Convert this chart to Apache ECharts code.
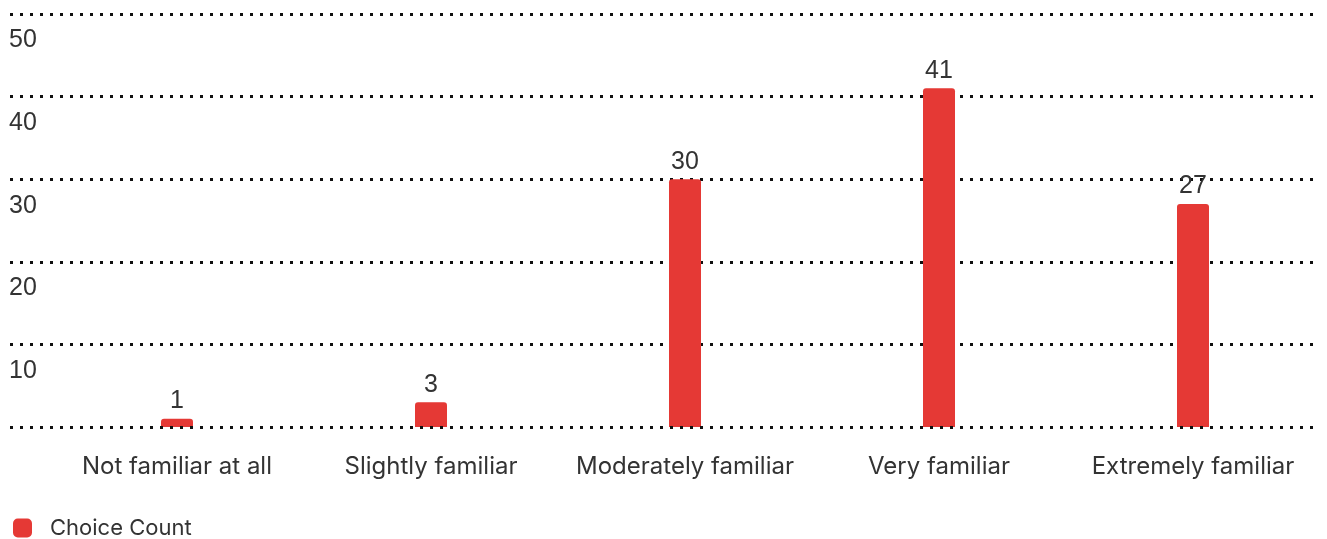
<!DOCTYPE html>
<html>
<head>
<meta charset="utf-8">
<style>
  html, body { margin: 0; padding: 0; background: #fff; }
  #chart { width: 1327px; height: 539px; }
</style>
<script src="https://cdn.jsdelivr.net/npm/echarts@6/dist/echarts.min.js"></script>
</head>
<body>
<div id="chart"></div>
<script>
// Familiarity survey: number of respondents choosing each answer
const categories = ['Not familiar at all', 'Slightly familiar', 'Moderately familiar', 'Very familiar', 'Extremely familiar'];
const choiceCount = [1, 3, 30, 41, 27];
const seriesName = 'Choice Count';
const yMin = 0;
const yMax = 50;
const yStep = 10;

const barColor = '#E53935';
const textColor = '#333333';
const dotted = { color: '#111111', width: 3, type: [3, 7], cap: 'butt' };

const chart = echarts.init(document.getElementById('chart'), null, { renderer: 'canvas' });

chart.setOption({
  backgroundColor: '#ffffff',
  animation: false,
  legend: {
    data: [seriesName],
    left: 8,
    top: 512,
    icon: 'roundRect',
    itemWidth: 19,
    itemHeight: 19,
    textStyle: {
      fontFamily: 'Inter',
      fontSize: 22,
      color: textColor,
      padding: [0, 0, 0, 13]
    }
  },
  grid: [
    // bars
    { left: 50, right: 7, top: 14, bottom: 112 },
    // value gridlines and labels, full width
    { left: 10, right: 7, top: 14, bottom: 112 }
  ],
  xAxis: [
    {
      type: 'category',
      gridIndex: 0,
      data: categories,
      axisLine: { show: false },
      axisTick: { show: false },
      axisLabel: {
        interval: 0,
        fontFamily: 'Inter',
        fontSize: 24,
        color: textColor,
        margin: 28
      }
    },
    {
      type: 'value',
      gridIndex: 1,
      min: 0,
      max: 1,
      z: 5,
      axisLine: { show: true, onZero: false, lineStyle: dotted },
      axisTick: { show: false },
      axisLabel: { show: false },
      splitLine: { show: false }
    }
  ],
  yAxis: [
    {
      type: 'value',
      gridIndex: 0,
      min: yMin,
      max: yMax,
      interval: yStep,
      show: false,
      splitLine: { show: false }
    },
    {
      type: 'value',
      gridIndex: 1,
      min: yMin,
      max: yMax,
      interval: yStep,
      axisLine: { show: false },
      axisTick: { show: false },
      splitLine: { show: true, lineStyle: dotted },
      axisLabel: {
        inside: true,
        margin: -1,
        showMinLabel: false,
        fontFamily: 'Liberation Sans',
        fontSize: 25,
        color: textColor,
        align: 'left',
        verticalAlign: 'top',
        padding: [14, 0, 0, 0]
      }
    }
  ],
  series: [
    {
      name: seriesName,
      type: 'bar',
      xAxisIndex: 0,
      yAxisIndex: 0,
      data: choiceCount,
      barWidth: 32,
      itemStyle: { color: barColor, borderRadius: [3, 3, 0, 0] },
      label: {
        show: true,
        position: 'top',
        distance: 5,
        fontFamily: 'Liberation Sans',
        fontSize: 25,
        color: textColor
      }
    }
  ]
});
</script>
</body>
</html>
